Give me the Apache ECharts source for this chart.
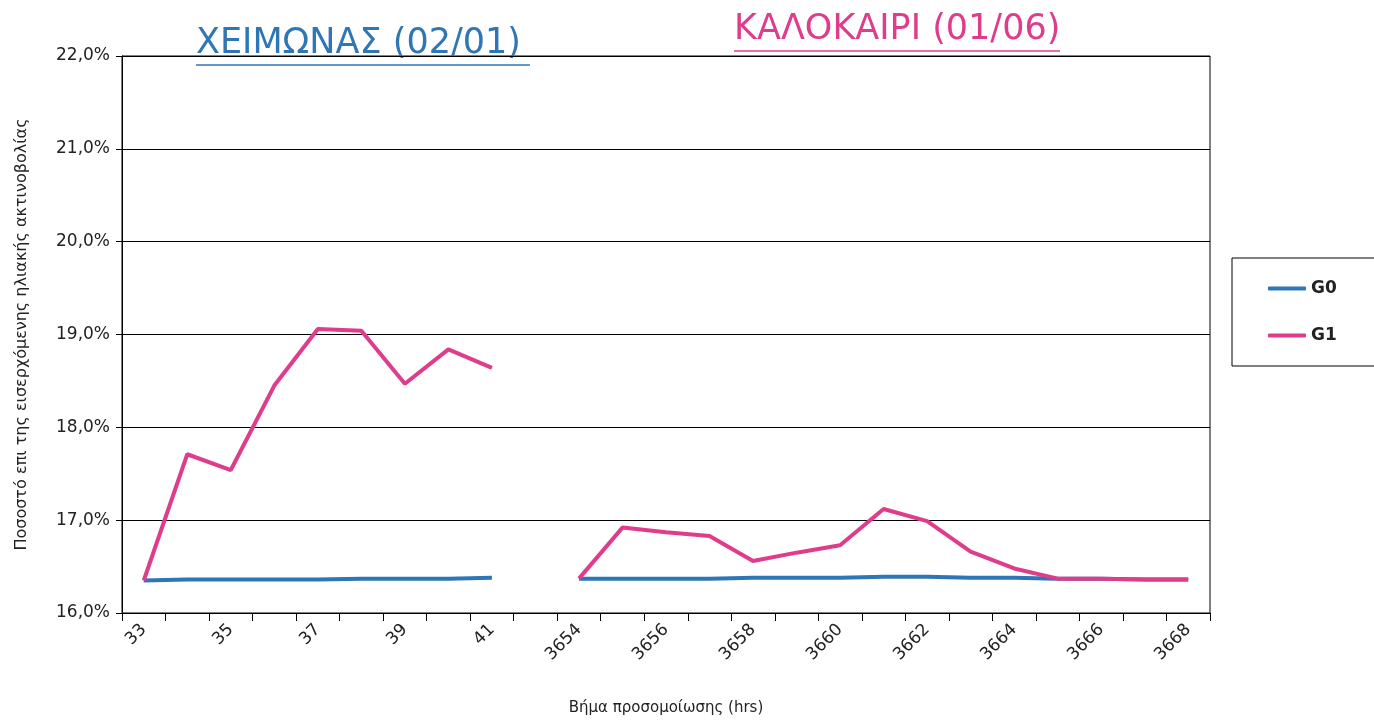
<!DOCTYPE html>
<html>
<head>
<meta charset="utf-8">
<title>G0 / G1</title>
<script src="https://cdn.jsdelivr.net/npm/echarts@6/dist/echarts.min.js"></script>
<style>
  html, body { margin: 0; padding: 0; background: #fff; }
  #chart { width: 1374px; height: 721px; }
</style>
</head>
<body>
<div id="chart"></div>
<script>
// categories: winter steps, one empty slot, summer steps
var steps = ['33','34','35','36','37','38','39','40','41','',
	'3654','3655','3656','3657','3658','3659','3660','3661','3662','3663','3664','3665','3666','3667','3668'];
// values in %
var g0 = [16.35, 16.36, 16.36, 16.36, 16.36, 16.37, 16.37, 16.37, 16.38, null,
	16.37, 16.37, 16.37, 16.37, 16.38, 16.38, 16.38, 16.39, 16.39, 16.38, 16.38, 16.37, 16.37, 16.36, 16.36];
var g1 = [16.35, 17.71, 17.54, 18.45, 19.06, 19.04, 18.47, 18.84, 18.64, null,
	16.37, 16.92, 16.87, 16.83, 16.56, 16.65, 16.73, 17.12, 16.99, 16.66, 16.48, 16.37, 16.37, 16.36, 16.36];
var yTicks = [16, 17, 18, 19, 20, 21, 22];

var blue = '#2f76b6';
var pink = '#e03c8c';
var font = 'DejaVu Sans';

var dom = document.getElementById('chart');
var myChart = echarts.init(dom);
var option = {
	animation: false,
	textStyle: { fontFamily: font },
	grid: {
		left: 122,
		right: 164,
		top: 56,
		bottom: 106,
		show: true,
		borderColor: '#000',
		borderWidth: 1
	},
	legend: {
		orient: 'vertical',
		left: 1232,
		top: 258,
		padding: [22, 60, 22, 36],
		itemGap: 30,
		itemWidth: 38,
		itemHeight: 4,
		icon: 'roundRect',
		borderColor: '#000',
		borderWidth: 1,
		textStyle: { fontSize: 17, fontWeight: 'bold', color: '#222' },
		data: ['G0', 'G1']
	},
	xAxis: {
		type: 'category',
		data: steps,
		name: 'Βήμα προσομοίωσης (hrs)',
		nameLocation: 'middle',
		nameGap: 88,
		nameTextStyle: { fontSize: 15, color: '#222' },
		axisLine: { lineStyle: { color: '#000', width: 1 } },
		axisTick: { show: true, interval: 0, length: 8, lineStyle: { color: '#000' } },
		axisLabel: {
			interval: 1,
			rotate: 45,
			fontSize: 17,
			color: '#222',
			margin: 14
		}
	},
	yAxis: {
		type: 'value',
		min: 16,
		max: 22,
		interval: 1,
		name: 'Ποσοστό επι της εισερχόμενης ηλιακής ακτινοβολίας',
		nameLocation: 'middle',
		nameGap: 92,
		nameTextStyle: { fontSize: 16, color: '#222' },
		axisLine: { show: true, lineStyle: { color: '#000', width: 1 } },
		axisTick: { show: true, length: 6, lineStyle: { color: '#000' } },
		axisLabel: {
			fontSize: 17,
			color: '#222',
			margin: 12,
			formatter: function (v) {
				return yTicks.indexOf(v) >= 0 ? v.toFixed(1).replace('.', ',') + '%' : '';
			}
		},
		splitLine: { show: true, lineStyle: { color: '#000', width: 1 } }
	},
	graphic: [
		{
			type: 'text',
			left: 196,
			top: 26,
			style: { text: 'ΧΕΙΜΩΝΑΣ (02/01)', fill: blue, fontSize: 35, fontFamily: font }
		},
		{
			type: 'line',
			shape: { x1: 196, y1: 65, x2: 530, y2: 65 },
			style: { stroke: blue, lineWidth: 1.5 }
		},
		{
			type: 'text',
			left: 734,
			top: 12,
			style: { text: 'ΚΑΛΟΚΑΙΡΙ (01/06)', fill: pink, fontSize: 35, fontFamily: font }
		},
		{
			type: 'line',
			shape: { x1: 734, y1: 51, x2: 1060, y2: 51 },
			style: { stroke: pink, lineWidth: 1.5 }
		}
	],
	series: [
		{
			name: 'G0',
			type: 'line',
			data: g0,
			symbol: 'none',
			color: blue,
			lineStyle: { width: 4, color: blue }
		},
		{
			name: 'G1',
			type: 'line',
			data: g1,
			symbol: 'none',
			color: pink,
			lineStyle: { width: 4, color: pink }
		}
	]
};
if (option && typeof option === "object") {
	myChart.setOption(option, true);
}
</script>
</body>
</html>
